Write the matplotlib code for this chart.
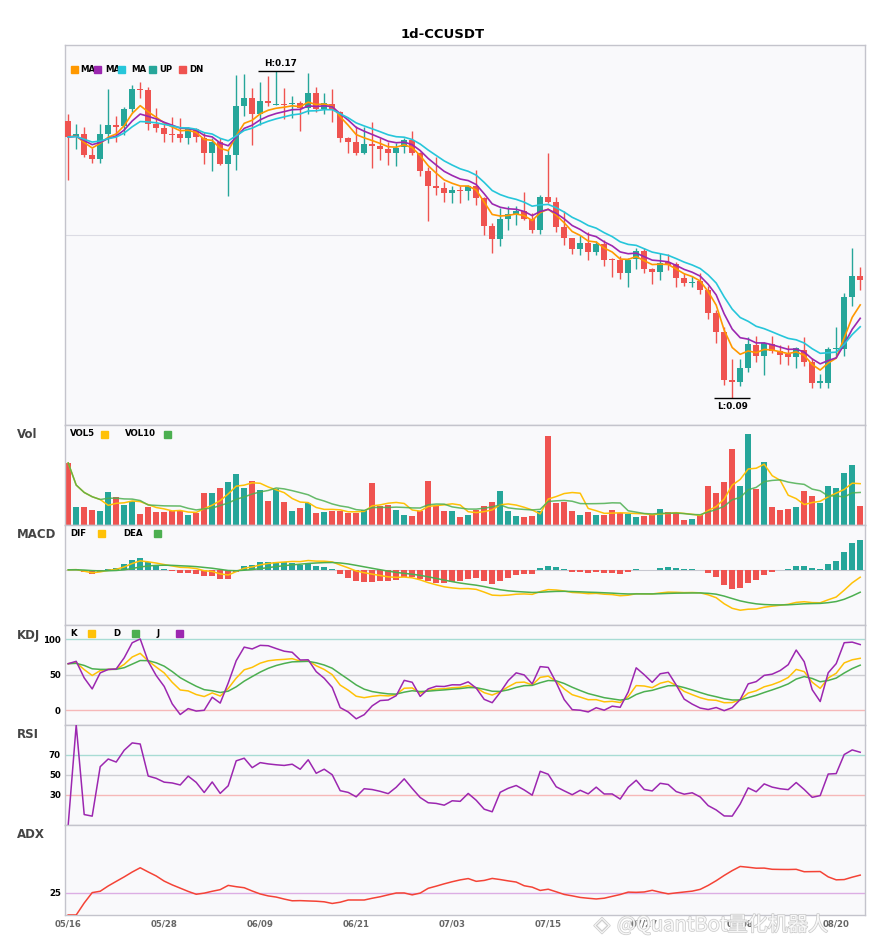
import numpy as np
import pandas as pd
import matplotlib
matplotlib.use('Agg')
import matplotlib.pyplot as plt
from matplotlib.patches import Rectangle
import matplotlib.patheffects as pe

# ---- data ----
symbol = '1d-CCUSDT'
dates = pd.date_range('2023-05-16', periods=100, freq='D')

opens = [0.1578, 0.1539, 0.1546, 0.1494, 0.1485, 0.1546, 0.1568, 0.1565, 0.1607, 0.1656,
         0.1654, 0.1570, 0.1561, 0.1546, 0.1546, 0.1536, 0.1558, 0.1536, 0.1499, 0.1526,
         0.1472, 0.1494, 0.1614, 0.1634, 0.1595, 0.1627, 0.1617, 0.1619, 0.1619, 0.1622,
         0.1609, 0.1646, 0.1607, 0.1619, 0.1600, 0.1536, 0.1526, 0.1499, 0.1521, 0.1517,
         0.1509, 0.1499, 0.1514, 0.1531, 0.1499, 0.1455, 0.1419, 0.1414, 0.1401, 0.1409,
         0.1406, 0.1419, 0.1389, 0.1321, 0.1289, 0.1338, 0.1350, 0.1358, 0.1338, 0.1311,
         0.1392, 0.1380, 0.1318, 0.1292, 0.1265, 0.1279, 0.1257, 0.1277, 0.1240, 0.1238,
         0.1206, 0.1240, 0.1260, 0.1216, 0.1208, 0.1233, 0.1228, 0.1194, 0.1181, 0.1186,
         0.1165, 0.1108, 0.1062, 0.0944, 0.0939, 0.0974, 0.1030, 0.1003, 0.1032, 0.1015,
         0.1008, 0.1000, 0.1018, 0.0988, 0.0937, 0.0937, 0.1020, 0.1020, 0.1147, 0.1198]
highs = [0.1595, 0.1570, 0.1563, 0.1512, 0.1570, 0.1656, 0.1590, 0.1612, 0.1666, 0.1673,
         0.1661, 0.1609, 0.1575, 0.1587, 0.1585, 0.1563, 0.1561, 0.1551, 0.1536, 0.1536,
         0.1507, 0.1690, 0.1693, 0.1658, 0.1673, 0.1688, 0.1700, 0.1658, 0.1639, 0.1627,
         0.1695, 0.1661, 0.1646, 0.1656, 0.1602, 0.1539, 0.1565, 0.1563, 0.1575, 0.1536,
         0.1526, 0.1524, 0.1536, 0.1553, 0.1502, 0.1465, 0.1490, 0.1428, 0.1419, 0.1419,
         0.1421, 0.1458, 0.1392, 0.1328, 0.1365, 0.1370, 0.1370, 0.1404, 0.1353, 0.1397,
         0.1499, 0.1392, 0.1358, 0.1292, 0.1299, 0.1306, 0.1284, 0.1287, 0.1243, 0.1247,
         0.1243, 0.1267, 0.1267, 0.1218, 0.1255, 0.1252, 0.1233, 0.1206, 0.1198, 0.1206,
         0.1174, 0.1115, 0.1074, 0.0996, 0.0996, 0.1049, 0.1052, 0.1037, 0.1052, 0.1030,
         0.1030, 0.1025, 0.1049, 0.0998, 0.0959, 0.1025, 0.1074, 0.1157, 0.1267, 0.1221]
lows = [0.1433, 0.1509, 0.1490, 0.1475, 0.1475, 0.1524, 0.1526, 0.1543, 0.1600, 0.1634,
        0.1556, 0.1551, 0.1526, 0.1526, 0.1526, 0.1521, 0.1526, 0.1472, 0.1455, 0.1470,
        0.1394, 0.1458, 0.1590, 0.1519, 0.1568, 0.1614, 0.1617, 0.1583, 0.1585, 0.1553,
        0.1595, 0.1600, 0.1595, 0.1575, 0.1526, 0.1499, 0.1494, 0.1497, 0.1463, 0.1482,
        0.1470, 0.1468, 0.1499, 0.1494, 0.1443, 0.1333, 0.1397, 0.1380, 0.1377, 0.1377,
        0.1384, 0.1372, 0.1299, 0.1255, 0.1272, 0.1311, 0.1324, 0.1336, 0.1304, 0.1301,
        0.1377, 0.1306, 0.1274, 0.1252, 0.1250, 0.1238, 0.1250, 0.1223, 0.1196, 0.1191,
        0.1172, 0.1216, 0.1206, 0.1179, 0.1189, 0.1213, 0.1172, 0.1174, 0.1172, 0.1155,
        0.1093, 0.1035, 0.0932, 0.0900, 0.0929, 0.0964, 0.0988, 0.0956, 0.1010, 0.0983,
        0.0981, 0.0974, 0.0978, 0.0925, 0.0925, 0.0925, 0.1003, 0.1003, 0.1125, 0.1165]
closes = [0.1539, 0.1546, 0.1494, 0.1485, 0.1546, 0.1568, 0.1563, 0.1607, 0.1656, 0.1654,
          0.1570, 0.1561, 0.1546, 0.1543, 0.1536, 0.1558, 0.1539, 0.1499, 0.1526, 0.1472,
          0.1494, 0.1614, 0.1634, 0.1595, 0.1627, 0.1622, 0.1619, 0.1617, 0.1622, 0.1609,
          0.1646, 0.1607, 0.1622, 0.1605, 0.1536, 0.1526, 0.1499, 0.1521, 0.1517, 0.1509,
          0.1499, 0.1512, 0.1531, 0.1499, 0.1455, 0.1419, 0.1414, 0.1401, 0.1409, 0.1406,
          0.1419, 0.1389, 0.1321, 0.1289, 0.1338, 0.1350, 0.1358, 0.1338, 0.1311, 0.1392,
          0.1380, 0.1318, 0.1292, 0.1265, 0.1279, 0.1257, 0.1277, 0.1238, 0.1238, 0.1206,
          0.1238, 0.1260, 0.1216, 0.1208, 0.1230, 0.1225, 0.1194, 0.1181, 0.1184, 0.1165,
          0.1108, 0.1062, 0.0944, 0.0939, 0.0974, 0.1032, 0.1003, 0.1035, 0.1015, 0.1005,
          0.1000, 0.1022, 0.0988, 0.0937, 0.0942, 0.1020, 0.1022, 0.1147, 0.1198, 0.1189]
volumes = [185, 53, 53, 46, 43, 98, 83, 61, 73, 34,
           53, 40, 40, 43, 41, 29, 35, 95, 95, 110,
           128, 151, 110, 130, 103, 73, 108, 68, 43, 50,
           65, 35, 40, 43, 43, 36, 35, 46, 125, 58,
           61, 46, 31, 28, 41, 131, 58, 43, 43, 23,
           31, 45, 58, 68, 100, 43, 28, 25, 28, 41,
           265, 65, 70, 43, 31, 38, 31, 31, 46, 36,
           33, 25, 28, 31, 49, 40, 36, 16, 19, 30,
           115, 95, 128, 226, 115, 271, 106, 188, 55, 46,
           49, 55, 100, 85, 65, 115, 110, 155, 178, 58]

UP, DN = '#26a69a', '#ef5350'

df = pd.DataFrame({'open': opens, 'high': highs, 'low': lows, 'close': closes, 'vol': volumes})
x = np.arange(len(df))
c = df['close']

# indicators
ma5 = c.ewm(span=5, adjust=False).mean()
ma8 = c.ewm(span=8, adjust=False).mean()
ma13 = c.ewm(span=13, adjust=False).mean()
vol5 = df['vol'].rolling(5, min_periods=1).mean()
vol10 = df['vol'].rolling(10, min_periods=1).mean()

dif = c.ewm(span=12, adjust=False).mean() - c.ewm(span=26, adjust=False).mean()
dea = dif.ewm(span=9, adjust=False).mean()
hist = 2 * (dif - dea)

llv = df['low'].rolling(9, min_periods=1).min()
hhv = df['high'].rolling(9, min_periods=1).max()
rsv = (c - llv) / (hhv - llv) * 100
k = rsv.ewm(com=2, adjust=False).mean()
d = k.ewm(com=2, adjust=False).mean()
j = 3 * k - 2 * d

delta = c.diff().fillna(0)
gain = delta.clip(lower=0).ewm(span=14, adjust=False).mean()
loss = (-delta.clip(upper=0)).ewm(span=14, adjust=False).mean()
rsi = (100 * gain / (gain + loss)).fillna(0)

up_move = df['high'].diff()
dn_move = -df['low'].diff()
pdm = pd.Series(np.where((up_move > dn_move) & (up_move > 0), up_move, 0.0))
mdm = pd.Series(np.where((dn_move > up_move) & (dn_move > 0), dn_move, 0.0))
tr = pd.concat([df['high'] - df['low'], (df['high'] - c.shift()).abs(),
                (df['low'] - c.shift()).abs()], axis=1).max(axis=1)
atr = tr.ewm(span=14, adjust=False).mean()
pdi = 100 * pdm.ewm(span=14, adjust=False).mean() / atr
mdi = 100 * mdm.ewm(span=14, adjust=False).mean() / atr
dx = (100 * (pdi - mdi).abs() / (pdi + mdi)).fillna(0)
adx = dx.ewm(span=14, adjust=False).mean()

# ---- layout ----
W, H = 885, 950
fig = plt.figure(figsize=(W / 100, H / 100), dpi=100)

def fx(px):
    return px / W

def fy(py):
    return 1 - py / H

panels = [('main', 45, 425), ('Vol', 425, 525), ('MACD', 525, 625),
          ('KDJ', 625, 725), ('RSI', 725, 825), ('ADX', 825, 915)]
axs = {}
for name, top, bot in panels:
    ax = fig.add_axes([fx(65), fy(bot), (865 - 65) / W, (bot - top) / H])
    ax.set_facecolor('#f9f9fb')
    for s in ax.spines.values():
        s.set_color('#c4c4cc')
        s.set_linewidth(1)
    ax.tick_params(length=0, labelsize=6.2, pad=3)
    ax.set_xlim(-0.4, 99.6)
    ax.set_xticks([])
    ax.set_yticks([])
    axs[name] = ax
    if name != 'main':
        fig.text(fx(17), fy(top + 10), name, fontsize=8.5, fontweight='bold',
                 color='#444444', va='center', ha='left')

fig.text(0.5, fy(34), symbol, fontsize=9.5, fontweight='bold', ha='center', va='center')

# main candles
ax = axs['main']
is_up = df['close'] >= df['open']
cols = np.where(is_up, UP, DN)
lo, hi = df['low'].min(), df['high'].max()
rng = hi - lo
ax.vlines(x, df['low'], df['high'], colors=cols, lw=1, zorder=2)
body_lo = np.minimum(df['open'], df['close'])
body_h = np.maximum((df['close'] - df['open']).abs(), rng * 0.004)
ax.bar(x, body_h, bottom=body_lo, width=0.72, color=cols, zorder=3)
ax.plot(x, ma5, color='#ff9800', lw=1.2, zorder=4)
ax.plot(x, ma8, color='#9c27b0', lw=1.2, zorder=4)
ax.plot(x, ma13, color='#26c6da', lw=1.2, zorder=4)
ax.set_ylim(lo - 0.082 * rng, hi + 0.08 * rng)
ax.axhline(0.13, color='#dcdce4', lw=0.8, zorder=1)

ih, il = int(df['high'].idxmax()), int(df['low'].idxmin())
ax.hlines(hi, ih - 2.25, ih + 2.25, color='black', lw=1, zorder=5)
ax.annotate(f'H:{hi:.2f}', xy=(ih, hi), xytext=(3.3, 2), textcoords='offset points',
            ha='center', va='bottom', fontsize=6.4, fontweight='bold')
ax.hlines(lo, il - 2.25, il + 2.25, color='black', lw=1, zorder=5)
ax.annotate(f'L:{lo:.2f}', xy=(il, lo), xytext=(0.5, -3), textcoords='offset points',
            ha='center', va='top', fontsize=6.4, fontweight='bold')

# volume
ax = axs['Vol']
ax.bar(x, df['vol'], width=0.72, color=cols, zorder=2)
ax.plot(x, vol5, color='#ffc107', lw=1.1, zorder=3)
ax.plot(x, vol10, color='#4caf50', lw=1.1, alpha=0.85, zorder=3)
ax.set_ylim(0, df['vol'].max() * 1.1)

# macd
ax = axs['MACD']
ax.axhline(0, color='#c8c8d0', lw=0.8, zorder=1)
ax.bar(x, hist, width=0.72, color=np.where(hist >= 0, UP, DN), zorder=2)
ax.plot(x, dif, color='#ffc107', lw=1.1, zorder=3)
ax.plot(x, dea, color='#4caf50', lw=1.1, zorder=3)
mlo = min(dif.min(), dea.min(), hist.min())
mhi = max(dif.max(), dea.max(), hist.max())
ax.set_ylim(mlo - 0.21 * (mhi - mlo), mhi + 0.21 * (mhi - mlo))

# kdj
ax = axs['KDJ']
for lvl, col in [(100, '#a8dcd4'), (50, '#cfcfd4'), (0, '#f6b8b8')]:
    ax.axhline(lvl, color=col, lw=1, zorder=1)
ax.plot(x, k, color='#ffc107', lw=1.1, zorder=3)
ax.plot(x, d, color='#4caf50', lw=1.1, zorder=3)
ax.plot(x, j, color='#9c27b0', lw=1.1, zorder=3)
ax.set_ylim(-21, 120)
ax.set_yticks([0, 50, 100])
ax.set_yticklabels(['0', '50', '100'], fontweight='bold')

# rsi
ax = axs['RSI']
for lvl, col in [(70, '#a8dcd4'), (50, '#cfcfd4'), (30, '#f6b8b8')]:
    ax.axhline(lvl, color=col, lw=1, zorder=1)
ax.plot(x, rsi, color='#9c27b0', lw=1.1, zorder=3)
ax.set_ylim(0, 100)
ax.set_yticks([30, 50, 70])
ax.set_yticklabels(['30', '50', '70'], fontweight='bold')

# adx
ax = axs['ADX']
ax.axhline(25, color='#dcaee4', lw=1, zorder=1)
ax.plot(x, adx, color='#f44336', lw=1.1, zorder=3)
ax.set_ylim(0, 100)
ax.set_yticks([25])
ax.set_yticklabels(['25'], fontweight='bold')
ticks = list(range(0, len(df), 12))
ax.set_xticks(ticks)
ax.set_xticklabels([dates[t].strftime('%m/%d') for t in ticks], fontweight='bold',
                   color='#666666', fontsize=6.2)

# legends
def legend(entries, y):
    for label, tx, col, sx in entries:
        fig.text(fx(tx), fy(y), label, fontsize=6.2, fontweight='bold', va='center', ha='left')
        fig.add_artist(Rectangle((fx(sx - 3.5), fy(y + 3.5)), 7 / W, 7 / H,
                                 transform=fig.transFigure, color=col, zorder=10))

legend([('MA', 80.7, '#ff9800', 74), ('MA', 105.7, '#9c27b0', 97.3),
        ('MA', 131, '#26c6da', 121.7), ('UP', 159.7, UP, 152.3), ('DN', 189, DN, 182.3)], 69.7)
legend([('VOL5', 70, '#ffc107', 104.7), ('VOL10', 125, '#4caf50', 167)], 434)
legend([('DIF', 70, '#ffc107', 101), ('DEA', 123, '#4caf50', 157)], 533)
legend([('K', 70, '#ffc107', 91), ('D', 113, '#4caf50', 135.5), ('J', 157, '#9c27b0', 179)], 633)

# watermark (sits over the last date labels, as in the original)
wm = [pe.withStroke(linewidth=1.1, foreground='#c4c4c4')]
fig.text(fx(602), fy(925), '◈', fontsize=15, color='white', ha='center', va='center',
         family=['DejaVu Sans'], path_effects=wm, alpha=0.85)
fig.text(fx(617), fy(925), '@QuantBot量化机器人', fontsize=14.5, color='white',
         ha='left', va='center', family=['Noto Sans CJK SC', 'DejaVu Sans'],
         path_effects=wm, alpha=0.85)

fig.savefig('out.png', dpi=100, facecolor='white')
